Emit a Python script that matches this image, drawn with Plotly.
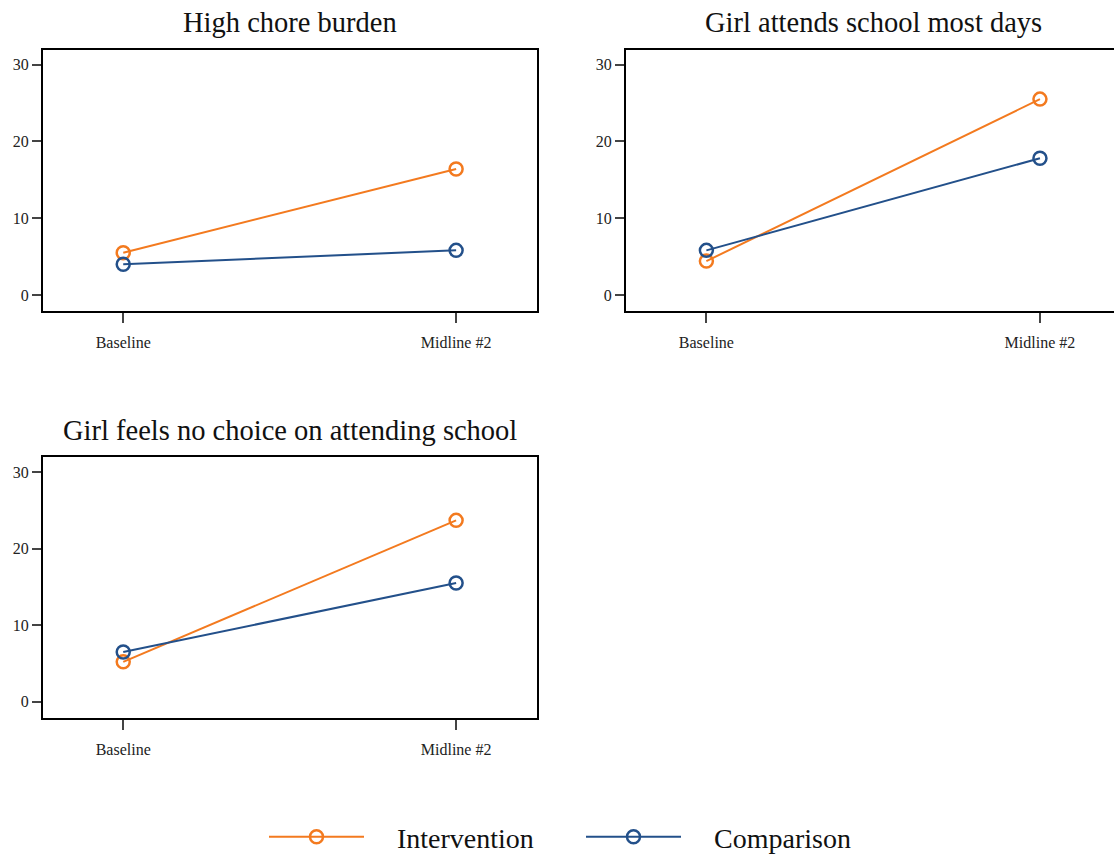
import plotly.graph_objects as go

waves = ["Baseline", "Midline #2"]
titles = ["High chore burden", "Girl attends school most days", "Girl feels no choice on attending school"]
intervention = [[5.5, 16.4], [4.4, 25.5], [5.2, 23.7]]
comparison = [[4.0, 5.8], [5.8, 17.8], [6.5, 15.5]]
y_ticks = [0, 10, 20, 30]

ORANGE = "#F37A1F"
NAVY = "#23508A"
FONT = "Liberation Serif"
W, H = 1114, 862

# panel geometry in pixels: (left, right, top, bottom)
panels = [(43, 537, 50, 313.5), (626, 1114, 50, 313.5), (43, 537, 461, 723.5)]
xranges = [[-0.241, 1.243], [-0.241, 1.222], [-0.241, 1.243]]

fig = go.Figure()
for i in range(3):
    sfx = "" if i == 0 else str(i + 1)
    fig.add_trace(go.Scatter(
        x=[0, 1], y=intervention[i], mode="lines+markers", name="\u00a0\u00a0\u00a0\u00a0Intervention",
        line=dict(color=ORANGE, width=2),
        marker=dict(symbol="circle-open", size=13, color=ORANGE, line=dict(width=2.5, color=ORANGE)),
        xaxis="x" + sfx, yaxis="y" + sfx, showlegend=(i == 0), legendgroup="int"))
    fig.add_trace(go.Scatter(
        x=[0, 1], y=comparison[i], mode="lines+markers", name="\u00a0\u00a0\u00a0\u00a0Comparison",
        line=dict(color=NAVY, width=2),
        marker=dict(symbol="circle-open", size=13, color=NAVY, line=dict(width=2.5, color=NAVY)),
        xaxis="x" + sfx, yaxis="y" + sfx, showlegend=(i == 0), legendgroup="cmp"))

layout = dict(
    width=W, height=H, margin=dict(l=0, r=0, t=0, b=0),
    paper_bgcolor="white", plot_bgcolor="white", font=dict(family=FONT, color="#222"),
    legend=dict(orientation="h", x=264 / W, xanchor="left", y=1 - 844 / H, yanchor="middle",
                font=dict(size=28, family=FONT, color="#111"), itemwidth=95, entrywidth=207,
                bgcolor="rgba(0,0,0,0)"),
    annotations=[],
)
for i, (l, r, t, b) in enumerate(panels):
    sfx = "" if i == 0 else str(i + 1)
    ylo = -2.09
    yhi = 31.95
    layout["xaxis" + sfx] = dict(
        domain=[l / W, r / W], anchor="y" + sfx, range=xranges[i],
        tickmode="array", tickvals=[0, 1], ticktext=waves,
        ticks="outside", ticklen=10, tickwidth=1.5, tickcolor="#444", ticklabelstandoff=6,
        showline=True, linecolor="black", linewidth=2, mirror=True,
        showgrid=False, zeroline=False, tickfont=dict(size=16, family=FONT, color="#222"))
    layout["yaxis" + sfx] = dict(
        domain=[1 - b / H, 1 - t / H], anchor="x" + sfx, range=[ylo, yhi],
        tickmode="array", tickvals=y_ticks,
        ticks="outside", ticklen=9, tickwidth=1.5, tickcolor="#444",
        showline=True, linecolor="black", linewidth=2, mirror=(i != 1),
        showgrid=False, zeroline=False, tickfont=dict(size=16, family=FONT, color="#222"))
    layout["annotations"].append(dict(
        text=titles[i], x=(l + (1121 if i == 1 else r)) / 2 / W, y=1 - (t - 27) / H,
        xref="paper", yref="paper", xanchor="center", yanchor="middle",
        showarrow=False, font=dict(size=28.5, family=FONT, color="#111")))

fig.update_layout(**layout)
fig.write_html("out.html")
